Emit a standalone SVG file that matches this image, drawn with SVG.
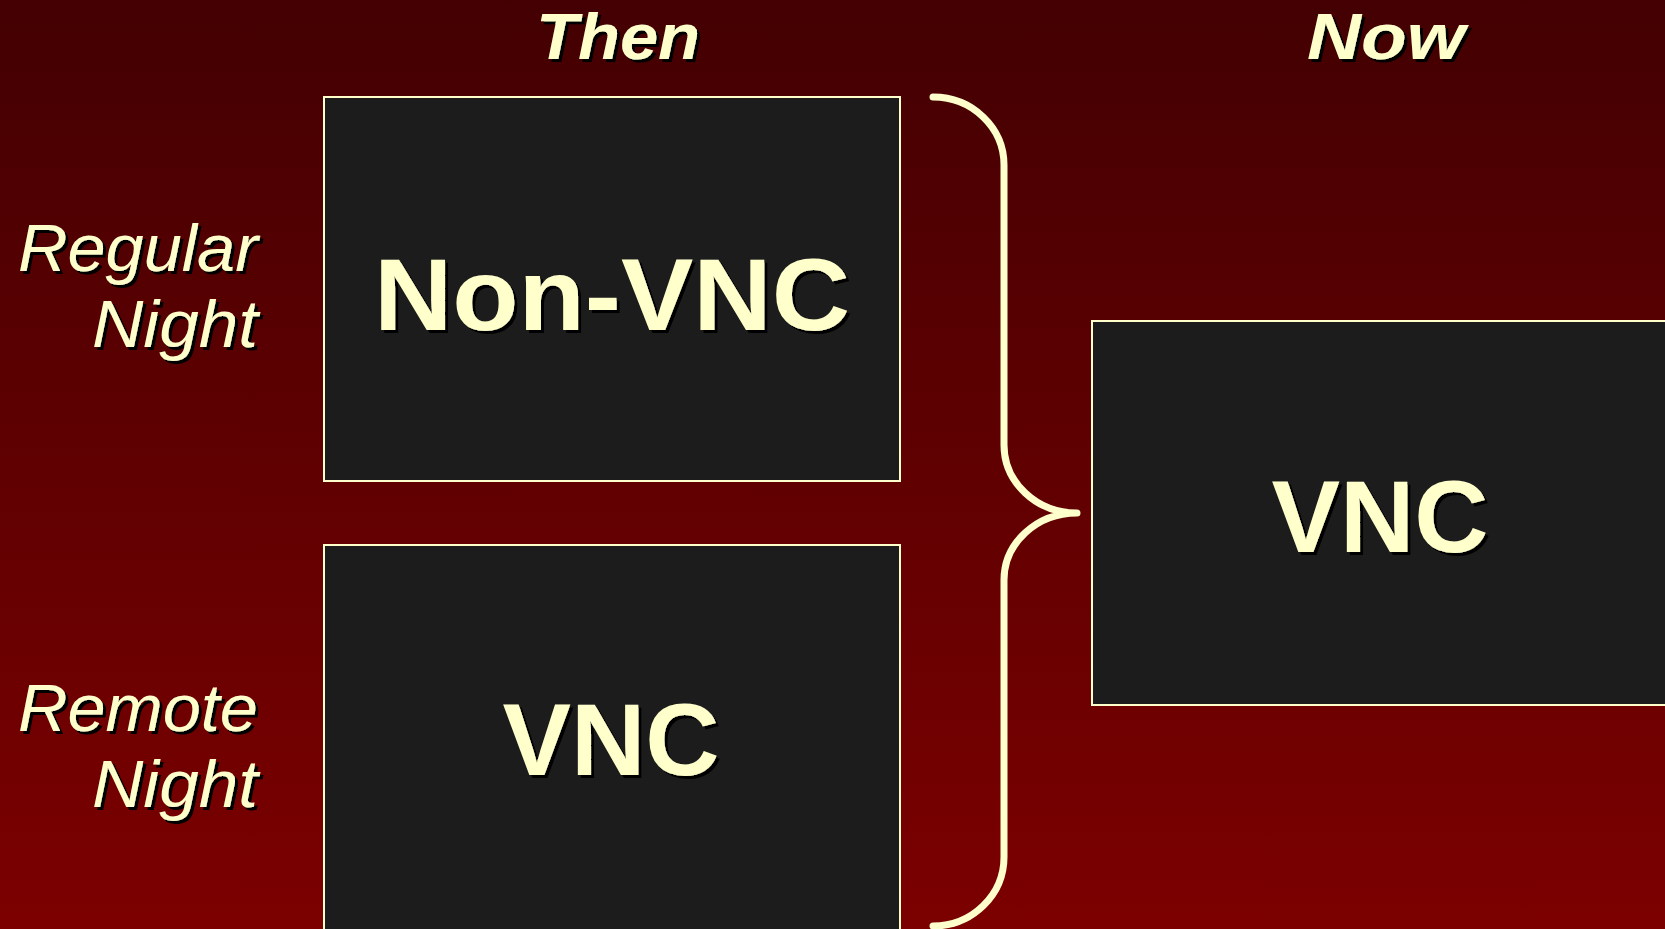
<svg xmlns="http://www.w3.org/2000/svg" width="1665" height="929" viewBox="0 0 1665 929">
<defs>
<linearGradient id="bg" x1="0" y1="0" x2="0" y2="1">
<stop offset="0" stop-color="#430002"/>
<stop offset="1" stop-color="#7c0000"/>
</linearGradient>
<filter id="sh" x="-10%" y="-10%" width="130%" height="130%">
<feDropShadow dx="3" dy="3" stdDeviation="0" flood-color="#000000" flood-opacity="1"/>
</filter>
</defs>
<style>
.box{fill:#1c1c1c;stroke:#ffffcc;stroke-width:2}
.t{fill:#ffffcc;font-family:"Liberation Sans",Arial,sans-serif;filter:url(#sh)}
.hdr{font-size:64px;font-weight:bold;font-style:italic;text-anchor:middle}
.side{font-size:66px;font-style:italic;text-anchor:end}
.big{font-size:102px;font-weight:bold;text-anchor:middle}
.brace{fill:none;stroke:#ffffcc;stroke-width:7;stroke-linecap:round;stroke-linejoin:round}
</style>
<rect x="0" y="0" width="1665" height="929" fill="url(#bg)"/>
<g id="headers">
<text class="t hdr" x="618" y="59" textLength="164" lengthAdjust="spacingAndGlyphs">Then</text>
<text class="t hdr" x="1386" y="59" textLength="158" lengthAdjust="spacingAndGlyphs">Now</text>
</g>
<g id="row-labels">
<text class="t side" x="258" y="271" textLength="240" lengthAdjust="spacingAndGlyphs">Regular</text>
<text class="t side" x="258" y="347" textLength="166" lengthAdjust="spacingAndGlyphs">Night</text>
<text class="t side" x="258" y="731" textLength="240" lengthAdjust="spacingAndGlyphs">Remote</text>
<text class="t side" x="258" y="807" textLength="166" lengthAdjust="spacingAndGlyphs">Night</text>
</g>
<g id="node-then-regular">
<rect class="box" x="324" y="97" width="576" height="384"/>
<text class="t big" x="612" y="330" textLength="476" lengthAdjust="spacingAndGlyphs">Non-VNC</text>
</g>
<g id="node-then-remote">
<rect class="box" x="324" y="545" width="576" height="390"/>
<text class="t big" x="611" y="775" textLength="217" lengthAdjust="spacingAndGlyphs">VNC</text>
</g>
<g id="node-now">
<rect class="box" x="1092" y="321" width="600" height="384"/>
<text class="t big" x="1380" y="552" textLength="217" lengthAdjust="spacingAndGlyphs">VNC</text>
</g>
<g id="connectors">
<path class="brace" d="M933 97 A71 68 0 0 1 1004 165 L1004 445 A73 68 0 0 0 1077 513 A73 67 0 0 0 1004 580 L1004 857 A71 69 0 0 1 933 926"/>
</g>
</svg>
